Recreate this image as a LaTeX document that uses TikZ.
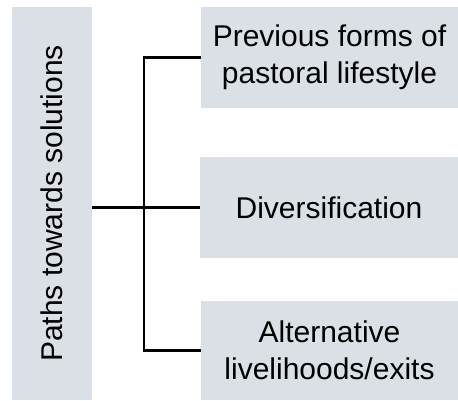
\documentclass[tikz,border=0pt]{standalone}
\usepackage{fontspec}
\setmainfont{Liberation Sans}
\usepackage{xcolor}
\usepackage{tikz}
\usetikzlibrary{positioning, calc}
\definecolor{boxgray}{RGB}{218,224,230}

\begin{document}
\begin{tikzpicture}[x=1pt, y=1pt,
    pathbox/.style={fill=boxgray, inner sep=0pt, align=center, font=\fontsize{30}{37}\selectfont},
    link/.style={line width=2.2pt, black},
    ]
\useasboundingbox (0,0) rectangle (458,-400);
\node[pathbox, minimum width=393pt, minimum height=80pt, rotate=90] (paths) at (52,-203.5) {Paths towards solutions};
\node[pathbox, minimum width=257pt, minimum height=101pt] (prev) at (329.5,-57.5) {Previous forms of\\pastoral lifestyle};
\node[pathbox, minimum width=258pt, minimum height=101pt] (div) at (329,-207.5) {Diversification};
\node[pathbox, minimum width=257pt, minimum height=99pt] (alt) at (329.5,-350.5) {Alternative\\livelihoods/exits};
\coordinate (split) at (144,-207.5);
% tree lines
\draw[link] (paths.south |- div.west) -- (div.west);
\draw[link] (prev.west) -| (split) |- (alt.west);
\end{tikzpicture}
\end{document}
